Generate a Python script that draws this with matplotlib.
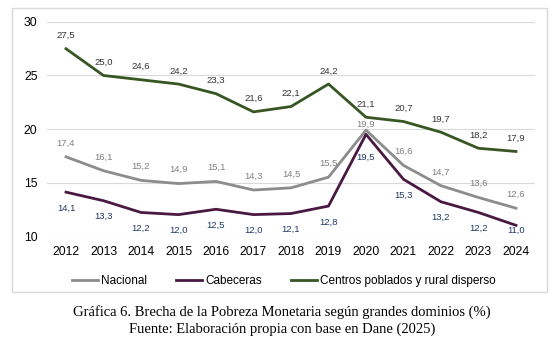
import matplotlib.pyplot as plt
from matplotlib.patches import Rectangle

# Data
years = [2012, 2013, 2014, 2015, 2016, 2017, 2018, 2019, 2020, 2021, 2022, 2023, 2024]
nacional = [17.4, 16.1, 15.2, 14.9, 15.1, 14.3, 14.5, 15.5, 19.9, 16.6, 14.7, 13.6, 12.6]
cabeceras = [14.1, 13.3, 12.2, 12.0, 12.5, 12.0, 12.1, 12.8, 19.5, 15.3, 13.2, 12.2, 11.0]
centros = [27.5, 25.0, 24.6, 24.2, 23.3, 21.6, 22.1, 24.2, 21.1, 20.7, 19.7, 18.2, 17.9]
y_ticks = [10, 15, 20, 25, 30]

plt.rcParams['font.family'] = ['Liberation Sans', 'DejaVu Sans']

fig = plt.figure(figsize=(5.58, 3.48), dpi=100)
ax = fig.add_axes([0.0847, 0.3218, 0.8736, 0.615])

x = list(range(len(years)))

series = [
    ('Nacional', nacional, '#8c8c8c', '#808080', 10),
    ('Cabeceras', cabeceras, '#4a1942', '#1f3864', -11.5),
    ('Centros poblados y rural disperso', centros, '#375623', '#333333', 9.5),
]

# a few labels sit at a different distance from their point
special = {('Cabeceras', 2020): -16.5, ('Cabeceras', 2024): -3.5,
           ('Nacional', 2020): 4}

for name, vals, color, lcolor, off in series:
    ax.plot(x, vals, color=color, lw=2, label=name, zorder=3)
    for xi, yr, v in zip(x, years, vals):
        dy = special.get((name, yr), off)
        ax.annotate(f'{v:.1f}'.replace('.', ','), (xi, v), xytext=(0, dy),
                    textcoords='offset points', ha='center', va='center',
                    fontsize=6.8, color=lcolor, zorder=4)

ax.set_xlim(-0.5, len(years) - 0.5)
ax.set_ylim(10, 30)
ax.set_yticks(y_ticks)
ax.set_xticks(x)
ax.set_xticklabels([str(y) for y in years])
ax.tick_params(length=0, labelsize=8.7, colors='#000000')
ax.tick_params(axis='x', pad=7)
ax.tick_params(axis='y', pad=7)
ax.grid(axis='y', color='#d9d9d9', lw=0.8)
ax.set_axisbelow(True)
for s in ax.spines.values():
    s.set_visible(False)

fig.legend(loc='center', bbox_to_anchor=(284 / 558, 1 - 281 / 348), ncol=3,
           frameon=False, fontsize=8.5, handlelength=2.2, handletextpad=0.25,
           columnspacing=2.5)

# chart border
fig.patches.append(Rectangle((12 / 558, 1 - 292 / 348), 535 / 558, 284 / 348,
                             transform=fig.transFigure, fill=False,
                             edgecolor='#d9d9d9', lw=1))

fig.text(282 / 558, 1 - 312 / 348,
         'Gráfica 6. Brecha de la Pobreza Monetaria según grandes dominios (%)',
         ha='center', va='center', fontsize=10.5, family='Liberation Serif')
fig.text(282 / 558, 1 - 329 / 348, 'Fuente: Elaboración propia con base en Dane (2025)',
         ha='center', va='center', fontsize=10.5, family='Liberation Serif')

fig.savefig('out.png', dpi=100)
